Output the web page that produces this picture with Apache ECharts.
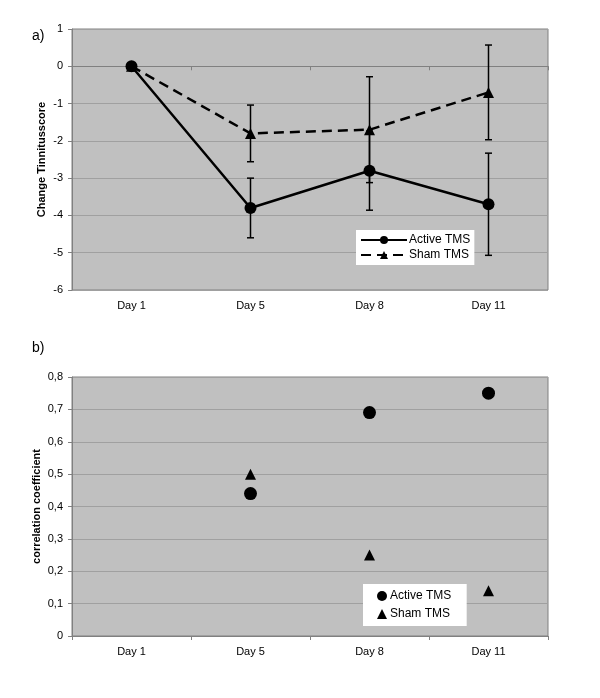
<!DOCTYPE html>
<html>
<head>
<meta charset="utf-8">
<script src="https://cdn.jsdelivr.net/npm/echarts@6/dist/echarts.min.js"></script>
<style>html,body{margin:0;padding:0;background:#fff;}#c{width:600px;height:698px;}</style>
</head>
<body>
<div id="c"></div>
<script>
const categories = ['Day 1', 'Day 5', 'Day 8', 'Day 11'];
// panel a: change in tinnitus score (means and error half-widths)
const activeChange = [0, -3.8, -2.8, -3.7];
const activeErr = [0, 0.8, 1.06, 1.37];
const shamChange = [0, -1.8, -1.7, -0.7];
const shamErr = [0, 0.76, 1.42, 1.27];
// panel b: correlation coefficients
const activeCorr = [null, 0.44, 0.69, 0.75];
const shamCorr = [null, 0.5, 0.25, 0.14];

const FONT = 'Liberation Sans, Arial, sans-serif';

function errData(means, errs) {
  const out = [];
  means.forEach((m, i) => { if (errs[i] > 0) out.push([i, m - errs[i], m + errs[i]]); });
  return out;
}
function errRender(params, api) {
  const x = api.value(0);
  const lo = api.coord([x, api.value(1)]);
  const hi = api.coord([x, api.value(2)]);
  const w = 3.5;
  const st = { stroke: '#000', lineWidth: 1.5 };
  return {
    type: 'group',
    children: [
      { type: 'line', shape: { x1: hi[0], y1: hi[1], x2: lo[0], y2: lo[1] }, style: st },
      { type: 'line', shape: { x1: hi[0] - w, y1: hi[1], x2: hi[0] + w, y2: hi[1] }, style: st },
      { type: 'line', shape: { x1: lo[0] - w, y1: lo[1], x2: lo[0] + w, y2: lo[1] }, style: st }
    ]
  };
}

const axisLabelStyle = { color: '#000', fontFamily: FONT, fontSize: 11 };
const xAxisCommon = {
  type: 'category', data: categories, boundaryGap: true,
  axisLine: { lineStyle: { color: '#808080', width: 1 } },
  axisTick: { show: true, length: 4, lineStyle: { color: '#808080' } },
  axisLabel: Object.assign({ margin: 10 }, axisLabelStyle),
  splitLine: { show: false }
};

const chart = echarts.init(document.getElementById('c'), null, { renderer: 'canvas' });
chart.setOption({
  animation: false,
  backgroundColor: '#fff',
  title: [
    { text: 'a)', left: 27, top: 24, textStyle: { fontFamily: FONT, fontSize: 14, fontWeight: 'normal', color: '#000' } },
    { text: 'b)', left: 27, top: 336, textStyle: { fontFamily: FONT, fontSize: 14, fontWeight: 'normal', color: '#000' } }
  ],
  grid: [
    { left: 72, top: 29, width: 476, height: 261, show: true, backgroundColor: '#c0c0c0', borderColor: '#808080', borderWidth: 1 },
    { left: 72, top: 377, width: 476, height: 259, show: true, backgroundColor: '#c0c0c0', borderColor: '#808080', borderWidth: 1 }
  ],
  legend: [
    {
      data: ['Active TMS', 'Sham TMS'], orient: 'vertical', left: 356, top: 230, width: 114,
      backgroundColor: '#fff', padding: [4, 4, 4, 4], itemGap: 3, itemWidth: 46, itemHeight: 10,
      textStyle: { fontFamily: FONT, fontSize: 12, color: '#000', padding: [0, 0, 0, -3] },
      seriesIndex: [0, 1]
    },
    {
      data: ['Active TMS ', 'Sham TMS '], orient: 'vertical', left: 363, top: 584, width: 110, height: 42,
      backgroundColor: '#fff', padding: [6, 12, 6, 14], itemGap: 6, itemWidth: 10, itemHeight: 10,
      textStyle: { fontFamily: FONT, fontSize: 12, color: '#000', padding: [0, 0, 0, -2] }
    }
  ],
  xAxis: [
    Object.assign({ gridIndex: 0 }, xAxisCommon),
    Object.assign({ gridIndex: 1 }, xAxisCommon)
  ],
  yAxis: [
    {
      gridIndex: 0, type: 'value', min: -6, max: 1, interval: 1,
      name: 'Change Tinnitusscore', nameLocation: 'middle', nameGap: 25, nameMoveOverlap: false,
      nameTextStyle: { fontFamily: FONT, fontSize: 11, fontWeight: 'bold', color: '#000' },
      axisLine: { show: true, lineStyle: { color: '#808080' } },
      axisTick: { show: true, length: 4, lineStyle: { color: '#808080' } },
      axisLabel: Object.assign({ margin: 9 }, axisLabelStyle),
      splitLine: { show: true, lineStyle: { color: '#a0a0a0', width: 1 } }
    },
    {
      gridIndex: 1, type: 'value', min: 0, max: 0.8, interval: 0.1,
      name: 'correlation coefficient', nameLocation: 'middle', nameGap: 30, nameMoveOverlap: false,
      nameTextStyle: { fontFamily: FONT, fontSize: 11, fontWeight: 'bold', color: '#000' },
      axisLine: { show: true, lineStyle: { color: '#808080' } },
      axisTick: { show: true, length: 4, lineStyle: { color: '#808080' } },
      axisLabel: Object.assign({ margin: 9, formatter: v => String(Math.round(v * 10) / 10).replace('.', ',') }, axisLabelStyle),
      splitLine: { show: true, lineStyle: { color: '#a0a0a0', width: 1 } }
    }
  ],
  series: [
    {
      name: 'Active TMS', type: 'line', xAxisIndex: 0, yAxisIndex: 0, data: activeChange,
      symbol: 'circle', symbolSize: 12, z: 4,
      lineStyle: { color: '#000', width: 2.5, type: 'solid' },
      itemStyle: { color: '#000', opacity: 1 }
    },
    {
      name: 'Sham TMS', type: 'line', xAxisIndex: 0, yAxisIndex: 0, data: shamChange,
      symbol: 'triangle', symbolSize: 11, z: 3,
      lineStyle: { color: '#000', width: 2.5, type: [10, 6] },
      itemStyle: { color: '#000', opacity: 1 }
    },
    {
      name: 'errActive', type: 'custom', xAxisIndex: 0, yAxisIndex: 0, renderItem: errRender,
      data: errData(activeChange, activeErr), z: 5, silent: true
    },
    {
      name: 'errSham', type: 'custom', xAxisIndex: 0, yAxisIndex: 0, renderItem: errRender,
      data: errData(shamChange, shamErr), z: 5, silent: true
    },
    {
      name: 'Active TMS ', type: 'scatter', xAxisIndex: 1, yAxisIndex: 1, data: activeCorr,
      symbol: 'circle', symbolSize: 13, itemStyle: { color: '#000', opacity: 1 }
    },
    {
      name: 'Sham TMS ', type: 'scatter', xAxisIndex: 1, yAxisIndex: 1, data: shamCorr,
      symbol: 'triangle', symbolSize: 11, itemStyle: { color: '#000', opacity: 1 }
    }
  ]
});
</script>
</body>
</html>
